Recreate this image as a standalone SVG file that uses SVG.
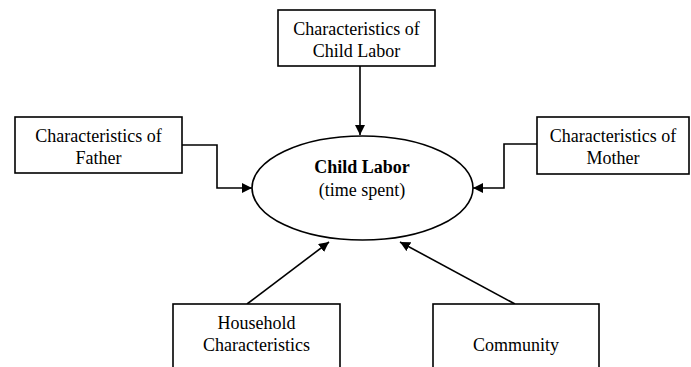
<svg xmlns="http://www.w3.org/2000/svg" width="691" height="367" viewBox="0 0 691 367">
<style>
.box{fill:#fff;stroke:#000;stroke-width:1.6}
.t{font-family:"Liberation Serif","Times New Roman",serif;font-size:18px;fill:#000;text-anchor:middle}
.b{font-weight:bold}
.c{fill:none;stroke:#000;stroke-width:1.6}
</style>
<defs>
<marker id="ah" viewBox="0 0 10 10" refX="10" refY="5" markerWidth="10" markerHeight="10" markerUnits="userSpaceOnUse" orient="auto">
<path d="M0,0 L10,5 L0,10 z" fill="#000"/>
</marker>
</defs>
<rect width="691" height="367" fill="#fff"/>
<g id="connectors">
<path class="c" d="M360,66 V135" marker-end="url(#ah)"/>
<path class="c" d="M182,145 H217 V188 H252" marker-end="url(#ah)"/>
<path class="c" d="M537,144 H504 V188 H473" marker-end="url(#ah)"/>
<path class="c" d="M247,304 L329,242" marker-end="url(#ah)"/>
<path class="c" d="M515,304 L400,242" marker-end="url(#ah)"/>
</g>
<g id="center">
<ellipse class="box" cx="362.5" cy="188" rx="110.5" ry="52"/>
<text class="t b" x="362" y="173">Child Labor</text>
<text class="t" x="362" y="196">(time spent)</text>
</g>
<g id="top">
<rect class="box" x="278" y="10" width="157" height="56"/>
<text class="t" x="356.5" y="35">Characteristics of</text>
<text class="t" x="356.5" y="57">Child Labor</text>
</g>
<g id="father">
<rect class="box" x="15" y="117" width="167" height="56"/>
<text class="t" x="98.5" y="142">Characteristics of</text>
<text class="t" x="98.5" y="164">Father</text>
</g>
<g id="mother">
<rect class="box" x="537" y="117" width="152" height="57"/>
<text class="t" x="613" y="142">Characteristics of</text>
<text class="t" x="613" y="164">Mother</text>
</g>
<g id="household">
<rect class="box" x="173" y="304" width="167" height="70"/>
<text class="t" x="256.5" y="329">Household</text>
<text class="t" x="256.5" y="351">Characteristics</text>
</g>
<g id="community">
<rect class="box" x="433" y="304" width="166" height="70"/>
<text class="t" x="516" y="351">Community</text>
</g>
</svg>
